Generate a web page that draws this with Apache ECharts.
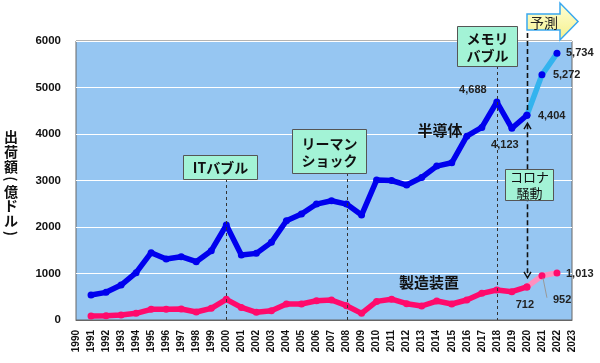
<!DOCTYPE html>
<html><head><meta charset="utf-8">
<script src="https://cdn.jsdelivr.net/npm/echarts@6/dist/echarts.min.js"></script>
<style>html,body{margin:0;padding:0;background:#fff}#c{width:600px;height:363px}</style>
</head><body><div id="c"></div>
<script>
const years = ['1990','1991','1992','1993','1994','1995','1996','1997','1998','1999','2000','2001','2002','2003','2004','2005','2006','2007','2008','2009','2010','2011','2012','2013','2014','2015','2016','2017','2018','2019','2020','2021','2022','2023'];
const semiconductor = [null,537,595,752,1017,1447,1311,1361,1254,1490,2042,1400,1433,1670,2134,2278,2493,2565,2493,2257,3009,3000,2902,3066,3310,3381,3954,4141,4688,4123,4404,5272,5734,null];
const equipment = [null,86,90,107,143,229,229,236,172,251,444,270,165,200,344,344,415,430,308,143,400,448,350,301,408,344,430,573,645,609,712,952,1013,null];
const yTicks = [0,1000,2000,3000,4000,5000,6000];
const forecastFrom = '2020';
const events = [
  {year:'2000', text:'ITバブル'},
  {year:'2008', text:'リーマン\nショック'},
  {year:'2018', text:'メモリ\nバブル'},
  {year:'2020', text:'コロナ\n騒動'}
];

const fIdx = years.indexOf(forecastFrom);
const actual = arr => arr.map((v,i)=> i<=fIdx ? v : null);
const forecast = arr => arr.map((v,i)=> i>=fIdx ? v : null);

const NUM = '"Liberation Sans", Arial, sans-serif';
const JP = '"Noto Sans CJK JP", sans-serif';

const chart = echarts.init(document.getElementById('c'), null, {renderer:'canvas'});
const BLUE='#0000ee', LBLUE='#33b3ee', PINK='#ff0a6c', LPINK='#ff8fbf';
function lineSeries(name, data, color, lineColor, z){
  return {name, type:'line', data, z, symbol:'circle', symbolSize:7, connectNulls:false,
    lineStyle:{color:lineColor, width:5.5}, itemStyle:{color}, emphasis:{disabled:true}};
}
chart.setOption({
  animation:false,
  grid:{left:76, right:28, top:41, bottom:43, show:true, backgroundColor:'#96c6f2', borderColor:'#666', borderWidth:1},
  xAxis:{type:'category', data:years, boundaryGap:false,
    axisLine:{lineStyle:{color:'#666'}}, axisTick:{show:false},
    axisLabel:{interval:0, rotate:90, margin:10, color:'#111', fontFamily:NUM, fontWeight:'bold', fontSize:10}},
  yAxis:{type:'value', min:yTicks[0], max:yTicks[yTicks.length-1], interval:1000,
    axisLine:{show:false}, axisTick:{show:false},
    splitLine:{lineStyle:{color:'#ffffff', width:1}},
    axisLabel:{margin:15, color:'#111', fontFamily:NUM, fontWeight:'bold', fontSize:11.5, formatter:v=>String(v)}},
  series:[
    lineSeries('半導体予測', forecast(semiconductor), BLUE, LBLUE, 2),
    lineSeries('製造装置予測', forecast(equipment), PINK, LPINK, 2),
    lineSeries('半導体', actual(semiconductor), BLUE, BLUE, 3),
    lineSeries('製造装置', actual(equipment), PINK, PINK, 3)
  ]
});

function px(year, v){ return chart.convertToPixel({gridIndex:0}, [year, v]); }
const bottomY = px('1990', 0)[1];
const g = [];
// y axis title (vertical, one glyph per row)
const titleChars = ['出','荷','額','(','億','ド','ル',')'];
const titleY = [137,152,167,179,191.5,206,220.5,233.5];
titleChars.forEach((c,k)=>{
  const isParen = c==='(' || c===')';
  g.push({type:'text', x:11, y:titleY[k], rotation:isParen?-Math.PI/2:0,
    style:{text:c, font:'bold 14px '+JP, fill:'#111', align:'center', verticalAlign:'middle'}});
});

// event boxes and dashed lines
const boxes = {
  '2000':{x:183,y:155,w:74,h:24,fs:14},
  '2008':{x:292,y:129,w:74,h:44,fs:14},
  '2018':{x:457,y:26,w:60,h:40,fs:14},
  '2020':{x:505,y:169,w:48,h:31,fs:13}
};
events.forEach(e=>{
  const b = boxes[e.year];
  const x = Math.round(px(e.year,0)[0])+0.5;
  if(e.year!=='2020'){
    g.push({type:'line', z:5, shape:{x1:x,y1:b.y+b.h,x2:x,y2:bottomY}, style:{stroke:'#333', lineWidth:1, lineDash:[3,3]}});
  }
});
// corona arrow
{
  const i = years.indexOf('2020');
  const x = Math.round(px('2020',0)[0])+0.5;
  const ys = px('2020', semiconductor[i])[1];
  const ye = px('2020', equipment[i])[1];
  g.push({type:'line', z:5, shape:{x1:x,y1:33,x2:x,y2:ys-4}, style:{stroke:'#111', lineWidth:1.6, lineDash:[5,3]}});
  g.push({type:'line', z:5, shape:{x1:x,y1:ys+9,x2:x,y2:ye-10}, style:{stroke:'#111', lineWidth:1.6, lineDash:[5,3]}});
  g.push({type:'polyline', z:5, shape:{points:[[x-3.5,ys+14],[x,ys+8],[x+3.5,ys+14]]}, style:{stroke:'#111', lineWidth:1.4, fill:null}});
  g.push({type:'polyline', z:5, shape:{points:[[x-3.5,ye-15],[x,ye-9],[x+3.5,ye-15]]}, style:{stroke:'#111', lineWidth:1.4, fill:null}});
}
events.forEach(e=>{
  const b = boxes[e.year];
  g.push({type:'rect', z:6, shape:{x:b.x+0.5,y:b.y+0.5,width:b.w,height:b.h}, style:{fill:'#a3f3d6', stroke:'#555', lineWidth:1}});
  g.push({type:'text', z:7, x:b.x+b.w/2+0.5, y:b.y+b.h/2+1, style:{text:e.text, font:(e.year==='2020'?'':'bold ')+b.fs+'px '+JP, fill:'#111', align:'center', verticalAlign:'middle', lineHeight:b.fs+3}});
});

// forecast arrow
g.push({type:'polygon', z:6, shape:{points:[[527,14],[560,14],[560,3],[578,21.5],[560,40],[560,30],[527,30]]},
  style:{fill:new echarts.graphic.LinearGradient(0,0,0,1,[{offset:0,color:'#ffffd8'},{offset:1,color:'#f5f08a'}]), stroke:'#3aa8f0', lineWidth:1.5}});
g.push({type:'text', z:7, x:544, y:22.5, style:{text:'予測', font:'14px '+JP, fill:'#222', align:'center', verticalAlign:'middle'}});

// series names
g.push({type:'text', z:7, x:440, y:130, style:{text:'半導体', font:'bold 15px '+JP, fill:'#111', align:'center', verticalAlign:'middle'}});
g.push({type:'text', z:7, x:429, y:282, style:{text:'製造装置', font:'bold 15px '+JP, fill:'#111', align:'center', verticalAlign:'middle'}});

// value labels
function fmt(v){ return v.toLocaleString('en-US'); }
const valLabels = [
  {arr:semiconductor, year:'2018', dx:-24, dy:-12, align:'center'},
  {arr:semiconductor, year:'2019', dx:-7, dy:17, align:'center'},
  {arr:semiconductor, year:'2020', dx:11, dy:1, align:'left'},
  {arr:semiconductor, year:'2021', dx:11, dy:0, align:'left'},
  {arr:semiconductor, year:'2022', dx:9, dy:0, align:'left'},
  {arr:equipment, year:'2020', dx:-2, dy:18, align:'center'},
  {arr:equipment, year:'2021', dx:11, dy:24, align:'left', leader:true},
  {arr:equipment, year:'2022', dx:9, dy:1, align:'left'}
];
valLabels.forEach(l=>{
  const v = l.arr[years.indexOf(l.year)];
  const p = px(l.year, v);
  g.push({type:'text', z:7, x:p[0]+l.dx, y:p[1]+l.dy, style:{text:fmt(v), font:'bold 11px '+NUM, fill:'#222', align:l.align, verticalAlign:'middle'}});
  if(l.leader){
    g.push({type:'line', z:4, shape:{x1:p[0]+1,y1:p[1]+2,x2:p[0]+5,y2:p[1]+22}, style:{stroke:'#999', lineWidth:1}});
  }
});
chart.setOption({graphic:g});
</script></body></html>
